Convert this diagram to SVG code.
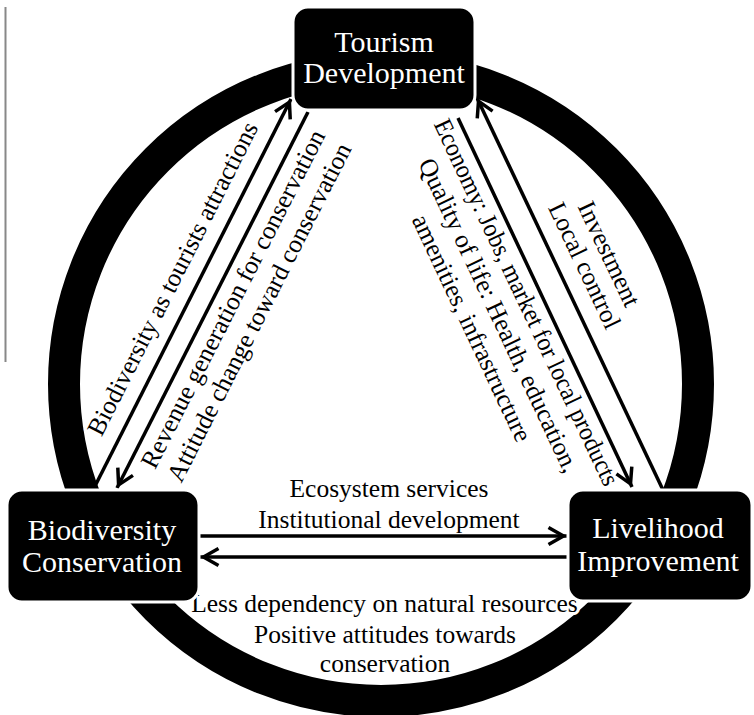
<svg xmlns="http://www.w3.org/2000/svg" width="754" height="715" viewBox="0 0 754 715">
<style>
text{font-family:'Liberation Serif','Times New Roman','DejaVu Serif',Times,serif}
.box{fill:#000;stroke:#fff;stroke-width:3}
.nt{font-size:30px;fill:#fff;text-anchor:middle}
.lb{font-size:25.5px;fill:#000;text-anchor:middle;stroke:#fff;stroke-width:6px;stroke-linejoin:round;paint-order:stroke}
.cn{stroke:#000;stroke-width:3.5;fill:none;marker-end:url(#ah)}
</style>
<defs>
<marker id="ah" markerUnits="userSpaceOnUse" markerWidth="30" markerHeight="30" viewBox="-25 -15 30 30" refX="0" refY="0" orient="auto">
<path d="M-18.5,-8.5 L-3.5,0 L-18.5,8.5" fill="none" stroke="#000" stroke-width="3.5" stroke-linejoin="miter"/>
</marker>
</defs>
<rect width="754" height="715" fill="#fff"/>
<line x1="5.5" y1="7" x2="5.5" y2="362" stroke="#888" stroke-width="2"/>
<circle id="ring" cx="381" cy="384" r="317" fill="none" stroke="#000" stroke-width="32"/>
<g id="labels" font-family="Liberation Serif, DejaVu Serif, serif">
<g transform="translate(194.4,289.7) rotate(-63.1)">
<text class="lb" x="0" y="-16">Biodiversity as tourists attractions</text>
</g>
<g transform="translate(217.2,291) rotate(-63)">
<text class="lb" x="0" y="26">Revenue generation for conservation</text>
<text class="lb" x="0" y="55.5">Attitude change toward conservation</text>
</g>
<g transform="translate(541.6,295.3) rotate(64.8)">
<text class="lb" x="0" y="25" textLength="402" lengthAdjust="spacingAndGlyphs">Economy: Jobs, market for local products</text>
<text class="lb" x="0" y="55.5">Quality of life: Health, education,</text>
<text class="lb" x="0" y="85.5">amenities, infrastructure</text>
</g>
<g transform="translate(561.7,276.4) rotate(64.6)">
<text class="lb" x="0" y="-44">Investment</text>
<text class="lb" x="0" y="-17">Local control</text>
</g>
<text class="lb" x="389" y="497">Ecosystem services</text>
<text class="lb" x="389" y="528">Institutional development</text>
<text class="lb" x="384.5" y="612">Less dependency on natural resources</text>
<text class="lb" x="385" y="643">Positive attitudes towards</text>
<text class="lb" x="385" y="672">conservation</text>
</g>
<g id="connectors">
<line class="cn" x1="93" y1="490" x2="291" y2="99"/>
<line class="cn" x1="308" y1="112" x2="117" y2="488"/>
<line class="cn" x1="458" y1="118" x2="632" y2="487"/>
<line class="cn" x1="663" y1="490" x2="477" y2="98"/>
<line class="cn" x1="199" y1="536" x2="567" y2="536"/>
<line class="cn" x1="568" y1="557" x2="200" y2="557"/>
</g>
<g id="tourism">
<rect class="box" x="293" y="7" width="182" height="103" rx="15"/>
<text class="nt" x="384" y="52">Tourism</text>
<text class="nt" x="384" y="83">Development</text>
</g>
<g id="biodiversity">
<rect class="box" x="7" y="490" width="192" height="112" rx="15"/>
<text class="nt" x="102" y="540">Biodiversity</text>
<text class="nt" x="102" y="572">Conservation</text>
</g>
<g id="livelihood">
<rect class="box" x="568" y="490" width="184" height="111" rx="15"/>
<text class="nt" x="658" y="538">Livelihood</text>
<text class="nt" x="658" y="571">Improvement</text>
</g>
</svg>
